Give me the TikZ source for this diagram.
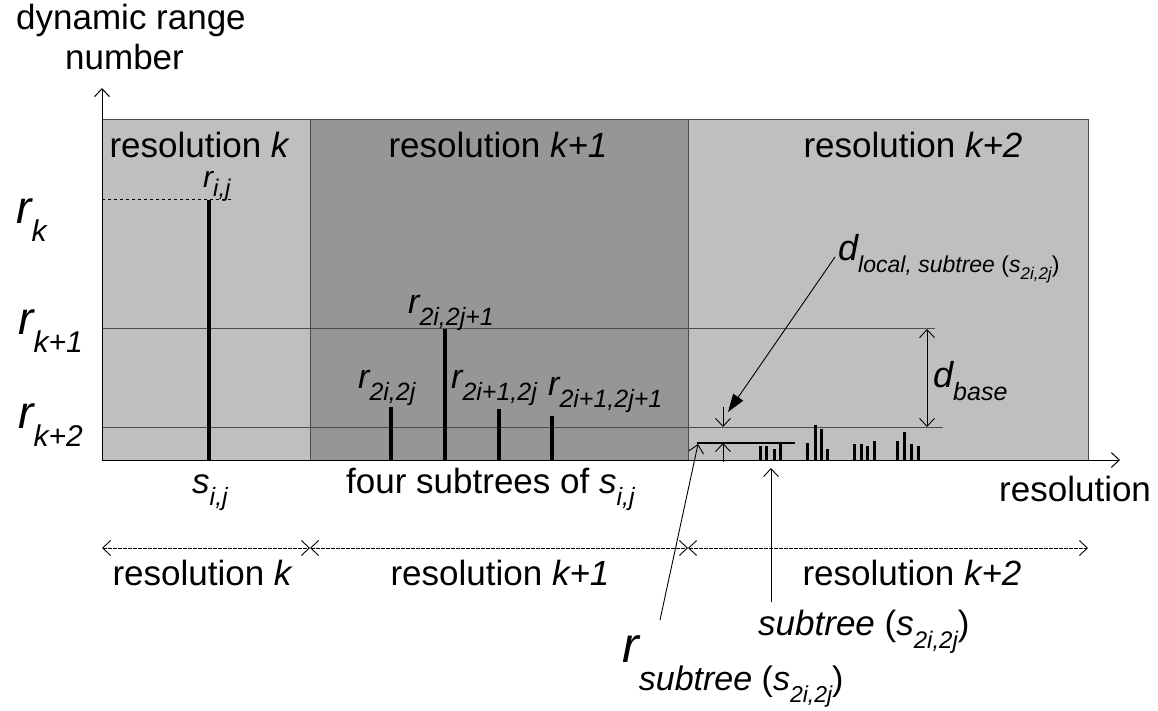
\documentclass[tikz,border=0pt]{standalone}
\usepackage{fontspec}
\setmainfont{Liberation Sans}
\usetikzlibrary{arrows.meta}
\newcommand\fs[1]{\fontsize{#1}{#1}\selectfont}
\definecolor{lg}{gray}{0.75}
\definecolor{dg}{gray}{0.59}
\definecolor{ln}{gray}{0.3}
\begin{document}
\begin{tikzpicture}[x=1pt,y=-1pt,
  txt/.style={inner sep=0,anchor=base west},
  ctxt/.style={inner sep=0,anchor=base},
  barb/.style={-{Straight Barb[length=8pt,width=15pt]}},
  dbarb/.style={{Straight Barb[length=8pt,width=15pt]}-{Straight Barb[length=8pt,width=15pt]}},
  region/.style={draw=ln,line width=1pt},
  level/.style={draw=ln,line width=1pt},
  bar/.style={line width=3.5pt},
  sbar/.style={line width=3pt},
  dim/.style={dbarb,line width=0.9pt,dash pattern=on 4pt off 1pt}]
\useasboundingbox (0,0) rectangle (1158,711);
\fill[white] (0,0) rectangle (1158,711);
% regions
\draw[region,fill=lg] (102,120) rectangle (310,460);
\draw[region,fill=dg] (310,120) rectangle (688,460);
\draw[region,fill=lg] (688,120) rectangle (1088,460);
% levels
\draw[level] (102,328) -- (935,328);
\draw[level] (102,427) -- (943,427);
\draw[dashed,line width=1pt] (102,200) -- (233,200);
% axes
\coordinate (O) at (102,460);
\coordinate (ytip) at (102,88);
\coordinate (xtip) at (1120,460);
\draw[barb,line width=1pt] (O) -- (ytip);
\draw[barb,line width=1pt] (O) -- (xtip);
% bars
\draw[bar] (209,460) -- (209,200);
\draw[bar] (391,460) -- (391,407);
\draw[bar] (445,460) -- (445,329);
\draw[bar] (499,460) -- (499,409);
\draw[bar] (552,460) -- (552,416);
% small bars
\foreach \x/\t in {760/446,766/446,774/449,780/444,807/443,815/425,821/429,827/449,854/444,861/444,867/446,874/441,897/441,904/432,911/444,918/446}
  \draw[sbar] (\x,460) -- (\x,\t);
% subtree level
\draw[line width=1.8pt] (697,443) -- (795,443);
% small arrows
\draw[barb,line width=0.9pt] (723,407) -- (723,427);
\draw[barb,line width=0.9pt] (723,462) -- (723,443);
\draw[dbarb,line width=0.9pt] (927,329) -- (927,427);
% labels
\node[txt] (ylab1) at (16,30) {\fs{35}dynamic range};
\node[txt] (ylab2) at (65,70) {\fs{35}number};
\node[ctxt] (t1) at (199,158) {\fs{35}resolution \itshape k};
\node[ctxt] (t2) at (498,158) {\fs{35}resolution \itshape k+1};
\node[ctxt] (t3) at (913,158) {\fs{35}resolution \itshape k+2};
\node[txt] (rk) at (16,224) {\fs{46}\itshape r\raisebox{-18pt}{\fs{30}k}};
\node[txt] (rk1) at (18,334) {\fs{46}\itshape r\raisebox{-18pt}{\fs{30}k+1}};
\node[txt] (rk2) at (18,428) {\fs{46}\itshape r\raisebox{-18pt}{\fs{30}k+2}};
\node[txt] (rij) at (203,188) {\fs{30}\itshape r\raisebox{-9pt}{\fs{24}i,j}};
\node[txt] (r1) at (358,388) {\fs{34}\itshape r\raisebox{-12pt}{\fs{25}2i,2j}};
\node[txt] (r2) at (408,313) {\fs{34}\itshape r\raisebox{-12pt}{\fs{25}2i,2j+1}};
\node[txt] (r3) at (451,388) {\fs{34}\itshape r\raisebox{-12pt}{\fs{25}2i+1,2j}};
\node[txt] (r4) at (548,395) {\fs{34}\itshape r\raisebox{-12pt}{\fs{25}2i+1,2j+1}};
\node[txt] (dloc) at (838,260) {\fs{36}\itshape d\raisebox{-12pt}{\fs{23}local, subtree \upshape(\itshape s\raisebox{-8pt}{\fs{17}2i,2j}\upshape)}};
\node[txt] (dbase) at (933,387) {\fs{36}\itshape d\raisebox{-13pt}{\fs{25}base}};
\node[txt] (sij) at (192,493) {\fs{35}\itshape s\raisebox{-12pt}{\fs{25}i,j}};
\node[txt] (four) at (346,493) {\fs{35}four subtrees of \itshape s\raisebox{-12pt}{\fs{25}i,j}};
\node[txt] (xlab) at (999,501) {\fs{35}resolution};
\node[ctxt] (b1) at (202,585) {\fs{35}resolution \itshape k};
\node[ctxt] (b2) at (500,585) {\fs{35}resolution \itshape k+1};
\node[ctxt] (b3) at (912,585) {\fs{35}resolution \itshape k+2};
\node[txt] (stl) at (758,635) {\fs{35}\itshape subtree \upshape(\itshape s\raisebox{-13pt}{\fs{24}2i,2j}\upshape)};
\node[txt] (rst) at (622,662) {\fs{50}\itshape r\raisebox{-28pt}{\fs{34}subtree \upshape(\itshape s\raisebox{-12pt}{\fs{23}2i,2j}\upshape)}};
% dimension arrows at bottom
\coordinate (d0) at (102,548);
\coordinate (d1) at (310,548);
\coordinate (d2) at (688,548);
\coordinate (d3) at (1088,548);
\draw[dim] (d0) -- (d1);
\draw[dim] (d1) -- (d2);
\draw[dim] (d2) -- (d3);
% pointer arrows
\coordinate (dlocA) at (835,257);
\coordinate (dlocB) at (728,412);
\draw[-{Triangle[length=18pt,width=12pt]},line width=0.9pt] (dlocA) -- (dlocB);
\coordinate (stA) at (771,602);
\coordinate (stB) at (771,468);
\draw[barb,line width=0.9pt] (stA) -- (stB);
\coordinate (rsA) at (660,620);
\coordinate (rsB) at (698,444);
\draw[barb,line width=0.9pt] (rsA) -- (rsB);
\end{tikzpicture}
\end{document}
